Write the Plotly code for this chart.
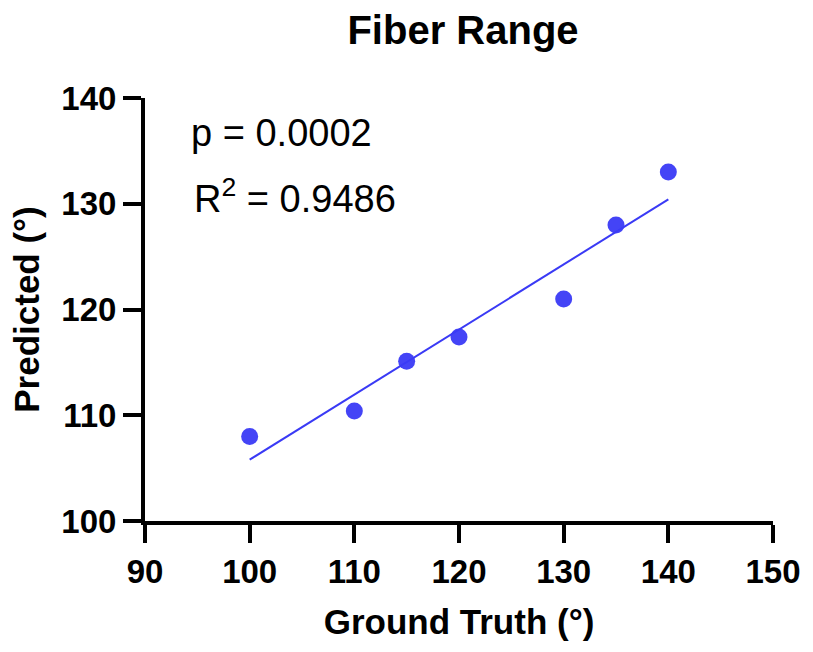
import numpy as np
import plotly.graph_objects as go

# Data
ground_truth = [100, 110, 115, 120, 130, 135, 140]
predicted = [108.0, 110.4, 115.1, 117.4, 121.0, 128.0, 133.0]
x_ticks = [90, 100, 110, 120, 130, 140, 150]
y_ticks = [100, 110, 120, 130, 140]
p_text = "p = 0.0002"
r2_text = "R<sup>2</sup> = 0.9486"

blue = "rgb(58,58,245)"
font_family = "Liberation Sans, Arial, sans-serif"

# linear regression
slope, intercept = np.polyfit(ground_truth, predicted, 1)
fit_x = [min(ground_truth), max(ground_truth)]
fit_y = [slope * v + intercept for v in fit_x]

fig = go.Figure()
fig.add_trace(go.Scatter(x=fit_x, y=fit_y, mode="lines",
                         line=dict(color=blue, width=2), showlegend=False,
                         hoverinfo="skip"))
fig.add_trace(go.Scatter(x=ground_truth, y=predicted, mode="markers",
                         marker=dict(color=blue, size=17, opacity=0.95,
                                     line=dict(width=0)),
                         showlegend=False))

axis_common = dict(
    showgrid=False, zeroline=False, showline=True, linecolor="black",
    linewidth=4, ticks="outside", ticklen=18, tickwidth=4, tickcolor="black",
    tickfont=dict(family=font_family, size=33, color="black", weight="bold"),
)

fig.update_layout(
    width=813, height=652,
    margin=dict(l=145, r=32, t=98, b=131),
    paper_bgcolor="white", plot_bgcolor="white",
    title=dict(text="Fiber Range", x=(145 + 781) / 2 / 813, xanchor="center",
               y=1 - 30 / 652, yanchor="middle", yref="container",
               font=dict(family=font_family, size=40, color="black",
                         weight="bold")),
    xaxis=dict(range=[90, 150], tickvals=x_ticks,
               ticktext=[str(v) for v in x_ticks],
               title=dict(text="Ground Truth (°)", standoff=22,
                          font=dict(family=font_family, size=35,
                                    color="black", weight="bold")),
               **axis_common),
    yaxis=dict(range=[100, 140], tickvals=y_ticks,
               ticktext=[str(v) for v in y_ticks],
               title=dict(text="Predicted (°)", standoff=12,
                          font=dict(family=font_family, size=35,
                                    color="black", weight="bold")),
               **axis_common),
)

fig.add_annotation(text=p_text, xref="paper", yref="paper",
                   x=(190 - 145) / 636, y=(521 - 133) / 423,
                   xanchor="left", yanchor="middle", showarrow=False,
                   font=dict(family=font_family, size=38, color="black"))
fig.add_annotation(text=r2_text, xref="paper", yref="paper",
                   x=(193 - 145) / 636, y=(521 - 196) / 423,
                   xanchor="left", yanchor="middle", showarrow=False,
                   font=dict(family=font_family, size=38, color="black"))

fig.write_html("out.html")
